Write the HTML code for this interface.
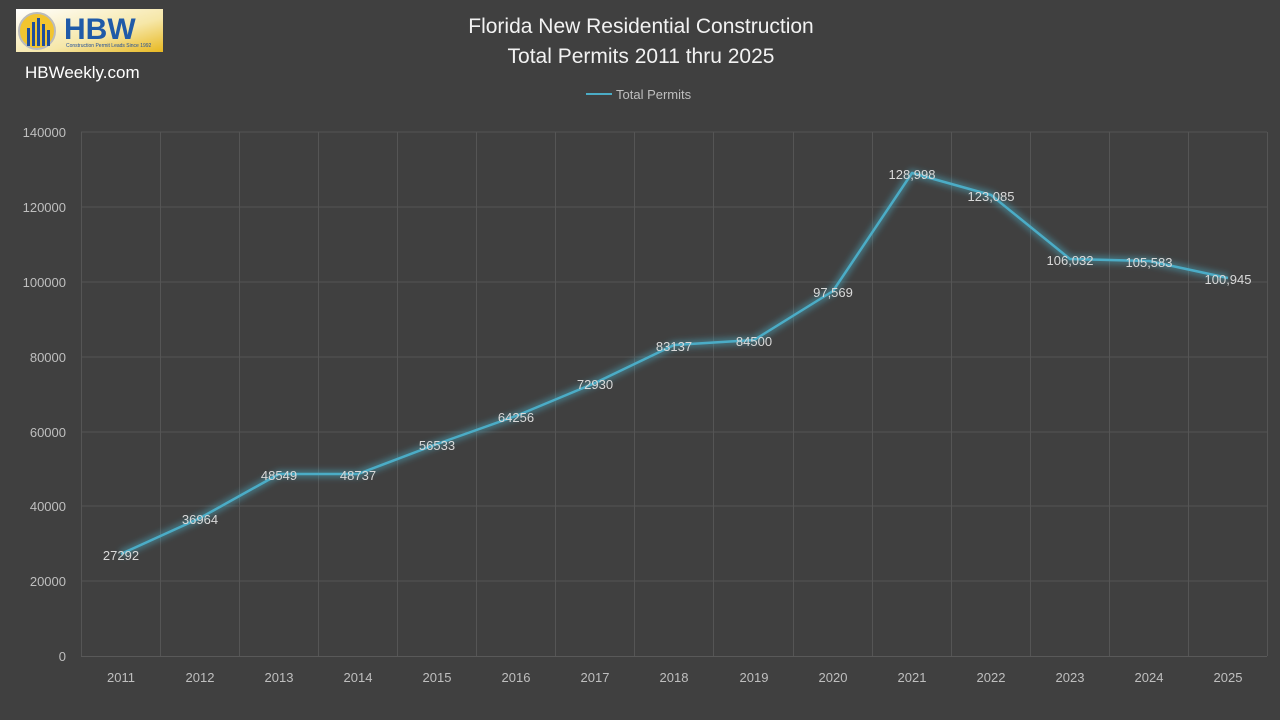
<!DOCTYPE html>
<html><head><meta charset="utf-8"><style>
body{margin:0;width:1280px;height:720px;background:#404040;overflow:hidden;font-family:"Liberation Sans",sans-serif;}
</style></head><body>
<svg width="1280" height="720" xmlns="http://www.w3.org/2000/svg" style="position:absolute;left:0;top:0">
<defs><filter id="g" x="-10%" y="-10%" width="120%" height="120%"><feGaussianBlur stdDeviation="3"/></filter>
<linearGradient id="lg" x1="0" y1="0" x2="1" y2="1"><stop offset="0" stop-color="#fff"/><stop offset="0.6" stop-color="#f6e7a8"/><stop offset="1" stop-color="#e8b820"/></linearGradient></defs>
<rect width="1280" height="720" fill="#404040"/>
<!-- logo -->
<rect x="16" y="9" width="147" height="43" fill="url(#lg)"/>
<circle cx="37" cy="31" r="18" fill="#f2c530" stroke="#bbb" stroke-width="2"/>
<g fill="#1f4e9c"><rect x="27" y="28" width="3" height="18"/><rect x="32" y="22" width="3" height="24"/><rect x="37" y="18" width="3" height="28"/><rect x="42" y="24" width="3" height="22"/><rect x="47" y="30" width="3" height="16"/></g>
<text x="64" y="39" font-size="30" font-weight="bold" fill="#1f5aa8" font-family="Liberation Sans,sans-serif">HBW</text>
<text x="66" y="47" font-size="5" fill="#1f4e9c">Construction Permit Leads Since 1992</text>
<text x="25" y="78" font-size="17" fill="#fff">HBWeekly.com</text>
<!-- title -->
<text x="641" y="33" font-size="21" fill="#f2f2f2" text-anchor="middle">Florida New Residential Construction</text>
<text x="641" y="63" font-size="21" fill="#f2f2f2" text-anchor="middle">Total Permits 2011 thru 2025</text>
<line x1="586" y1="94" x2="612" y2="94" stroke="#4bacc6" stroke-width="2"/>
<text x="616" y="99" font-size="13" fill="#bfbfbf">Total Permits</text>
<!-- grid -->
<g stroke="#555" stroke-width="1">
<line x1="81" y1="132" x2="1267" y2="132"/><line x1="81" y1="207" x2="1267" y2="207"/><line x1="81" y1="282" x2="1267" y2="282"/><line x1="81" y1="357" x2="1267" y2="357"/><line x1="81" y1="432" x2="1267" y2="432"/><line x1="81" y1="506" x2="1267" y2="506"/><line x1="81" y1="581" x2="1267" y2="581"/>
<line x1="81.5" y1="132" x2="81.5" y2="656"/><line x1="160.5" y1="132" x2="160.5" y2="656"/><line x1="239.5" y1="132" x2="239.5" y2="656"/><line x1="318.5" y1="132" x2="318.5" y2="656"/><line x1="397.5" y1="132" x2="397.5" y2="656"/><line x1="476.5" y1="132" x2="476.5" y2="656"/><line x1="555.5" y1="132" x2="555.5" y2="656"/><line x1="634.5" y1="132" x2="634.5" y2="656"/><line x1="713.5" y1="132" x2="713.5" y2="656"/><line x1="793.5" y1="132" x2="793.5" y2="656"/><line x1="872.5" y1="132" x2="872.5" y2="656"/><line x1="951.5" y1="132" x2="951.5" y2="656"/><line x1="1030.5" y1="132" x2="1030.5" y2="656"/><line x1="1109.5" y1="132" x2="1109.5" y2="656"/><line x1="1188.5" y1="132" x2="1188.5" y2="656"/><line x1="1267.5" y1="132" x2="1267.5" y2="656"/>
</g>
<line x1="81" y1="656.5" x2="1267" y2="656.5" stroke="#595959"/>
<g font-size="13" fill="#bfbfbf" text-anchor="end">
<text x="66" y="137">140000</text><text x="66" y="212">120000</text><text x="66" y="287">100000</text><text x="66" y="362">80000</text><text x="66" y="437">60000</text><text x="66" y="511">40000</text><text x="66" y="586">20000</text><text x="66" y="661">0</text>
</g>
<g font-size="13" fill="#bfbfbf" text-anchor="middle">
<text x="121" y="682">2011</text><text x="200" y="682">2012</text><text x="279" y="682">2013</text><text x="358" y="682">2014</text><text x="437" y="682">2015</text><text x="516" y="682">2016</text><text x="595" y="682">2017</text><text x="674" y="682">2018</text><text x="754" y="682">2019</text><text x="833" y="682">2020</text><text x="912" y="682">2021</text><text x="991" y="682">2022</text><text x="1070" y="682">2023</text><text x="1149" y="682">2024</text><text x="1228" y="682">2025</text>
</g>
<polyline id="pl" fill="none" stroke="#4bacc6" stroke-width="8" stroke-opacity="0.45" filter="url(#g)" stroke-linejoin="round"
points="121,554 200,518 279,474 358,474 437,444 516,416 595,383 674,345 754,340 833,291 912,173 991,195 1070,259 1149,261 1228,278"/>
<polyline fill="none" stroke="#4bacc6" stroke-width="2.5" stroke-linejoin="round"
points="121,554 200,518 279,474 358,474 437,444 516,416 595,383 674,345 754,340 833,291 912,173 991,195 1070,259 1149,261 1228,278"/>
<g font-size="13" fill="#d9d9d9" text-anchor="middle">
<text x="121" y="560">27292</text><text x="200" y="524">36964</text><text x="279" y="480">48549</text><text x="358" y="480">48737</text><text x="437" y="450">56533</text><text x="516" y="422">64256</text><text x="595" y="389">72930</text><text x="674" y="351">83137</text><text x="754" y="346">84500</text><text x="833" y="297">97,569</text><text x="912" y="179">128,998</text><text x="991" y="201">123,085</text><text x="1070" y="265">106,032</text><text x="1149" y="267">105,583</text><text x="1228" y="284">100,945</text>
</g>
</svg>
</body></html>
